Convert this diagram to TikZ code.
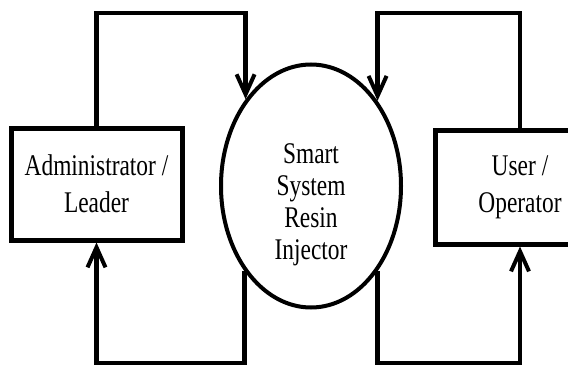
\documentclass[tikz,border=0pt]{standalone}
\usepackage{fontspec}
\setmainfont{Liberation Serif}[FakeStretch=0.78]
\usetikzlibrary{shapes.geometric,arrows.meta}
\begin{document}
\begin{tikzpicture}[x=1pt,y=-1pt,
  actor/.style={draw, line width=5pt, inner sep=0pt, align=center,
    font=\fontsize{30}{37}\selectfont},
  process/.style={draw, ellipse, line width=4pt, inner sep=0pt},
  caption/.style={align=center, inner sep=0pt, font=\fontsize{30}{32}\selectfont},
  flow/.style={line width=4.5pt, line join=miter,
    -{Straight Barb[length=20pt,width=18pt,line width=4pt]}}]
\useasboundingbox (0,0) rectangle (568,369);
\clip (0,0) rectangle (568,369);

% actors on both sides
\node[actor, minimum width=171pt, minimum height=112pt] (admin) at (96.5,184) {Administrator /\\Leader};
\node[actor, minimum width=170pt, minimum height=114pt] (user) at (520,187) {User /\\Operator};

% central process
\node[process, minimum width=180pt, minimum height=243pt] (sys) at (311,186) {};
\node[caption] (syslabel) at (311,205) {Smart\\System\\Resin\\Injector};

% loops over the top into the process
\draw[flow] (admin.north) |- (sys.127.7 |- 0,13) -- (sys.127.7);
\draw[flow] (user.north) |- (sys.52.3 |- 0,13) -- (sys.52.3);

% loops under the bottom back to the actors
\draw[flow] (sys.232.3) -- (sys.232.3 |- 0,363) -| (admin.south);
\draw[flow] (sys.-52.3) -- (sys.-52.3 |- 0,363) -| (user.south);
\end{tikzpicture}
\end{document}
